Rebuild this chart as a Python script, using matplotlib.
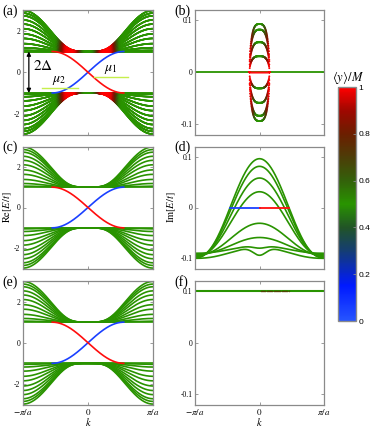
import numpy as np
import matplotlib
matplotlib.use('Agg')
import matplotlib.pyplot as plt
from matplotlib.collections import LineCollection
from matplotlib.colors import LinearSegmentedColormap
from matplotlib.cm import ScalarMappable

plt.rcParams['font.family'] = ['Liberation Serif', 'DejaVu Serif']
plt.rcParams['mathtext.fontset'] = 'stix'
plt.rcParams['axes.unicode_minus'] = False

### Values ###
# bulk band energies at k = +-pi/a (upper set, lower set is mirrored)
band_edge_E = [2.98, 2.85, 2.72, 2.52, 2.32, 2.10, 1.85, 1.63, 1.38, 1.18, 1.05, 1.0]
gap = 1.0                 # Delta
edge_kmax = 0.55          # edge state reaches the bulk at k = +-0.55 pi/a
mu1_E, mu1_k = -0.25, [0.09, 0.62]
mu2_E, mu2_k = -0.75, [-0.71, -0.15]
arrow_k = -0.91

# (b) Im E loops around k = 0
loop_heights_b = [0.093, 0.082, 0.058, 0.031, -0.031, -0.059, -0.084, -0.094]
loop_kmax_b = 0.155

# (d) Im E bells: value at k=0, value at k=+-pi/a, central dip
bell_peaks_d = [0.096, 0.081, 0.058, 0.031, -0.031, -0.059, -0.080, -0.094]
bell_base_d = [-0.099, -0.098, -0.097, -0.096, -0.094, -0.092, -0.090, -0.100]
bell_dips_d = [0, 0, 0, 0, 0, 0, 0.005, 0.016]
edge_kmax_d = 0.46

# (f) flat imaginary part
im_f = 0.1

cbar_ticks = [0, 0.2, 0.4, 0.6, 0.8, 1]

### colormap (blue - green - red) ###
cmap = LinearSegmentedColormap.from_list('ymap', [
    (0.0, (0.15, 0.33, 1.0)), (0.15, (0.0, 0.1, 1.0)), (0.3, (0.08, 0.24, 0.45)),
    (0.4, (0.13, 0.33, 0.15)), (0.5, (0.16, 0.58, 0.0)), (0.6, (0.2, 0.38, 0.04)),
    (0.7, (0.3, 0.24, 0.03)), (0.8, (0.42, 0.12, 0.0)), (0.9, (0.62, 0.03, 0.0)),
    (1.0, (1.0, 0.0, 0.0))])
green = cmap(0.5)
red = (1.0, 0.05, 0.05)
blue = (0.1, 0.25, 1.0)
spine_col = '#8a8a8a'

k = np.linspace(-1, 1, 501)


def band(Epi, kk):
    a = np.sqrt(max(Epi ** 2 - gap ** 2, 0))
    return np.sqrt(gap ** 2 + (a * (1 - np.cos(np.pi * kk)) / 2) ** 2)


def colored_line(ax, x, y, c, lw=1.2):
    pts = np.array([x, y]).T.reshape(-1, 1, 2)
    segs = np.concatenate([pts[:-1], pts[1:]], axis=1)
    lc = LineCollection(segs, colors=cmap(c[:-1]), linewidths=lw, capstyle='round')
    ax.add_collection(lc)


def style(ax, left_col, bottom_row):
    for s in ax.spines.values():
        s.set_color(spine_col)
        s.set_linewidth(0.9)
    ax.tick_params(direction='in', length=2, width=0.6, color=spine_col,
                   top=True, right=True, labelsize=5.5, pad=2)
    ax.set_xlim(-1, 1)
    ax.set_xticks([-1, 0, 1])
    if bottom_row:
        ax.set_xticklabels([r'$-\pi/a$', r'$0$', r'$\pi/a$'], fontsize=6.5)
        ax.set_xlabel(r'$k$', fontsize=7.5, va='center')
        ax.xaxis.set_label_coords(0.5, -0.145)
    else:
        ax.set_xticklabels([])
    if left_col:
        ax.set_ylim(-3, 3)
        ax.set_yticks([-2, 0, 2])
        ax.set_yticklabels(['-2', '0', '2'])
    else:
        ax.set_ylim(-0.12, 0.12)
        ax.set_yticks([-0.1, 0, 0.1])
        ax.set_yticklabels(['-0.1', '0', '0.1'])


fig = plt.figure(figsize=(3.74, 4.29), dpi=100)
W, H = 374, 429
lx, lw_ = 23 / W, 130 / W
rx, rw = 195 / W, 129 / W
rows = [(10, 134.5), (146.5, 268.5), (281, 404.5)]
axes = []
for i, (t, b) in enumerate(rows):
    axL = fig.add_axes([lx, 1 - b / H, lw_, (b - t) / H])
    axR = fig.add_axes([rx, 1 - b / H, rw, (b - t) / H])
    style(axL, True, i == 2)
    style(axR, False, i == 2)
    axes.append((axL, axR))

(ax_a, ax_b), (ax_c, ax_d), (ax_e, ax_f) = axes

# edge state
ke = np.linspace(-edge_kmax, edge_kmax, 200)
E_red = -gap * np.sin(np.pi / 2 * ke / edge_kmax)

### (a) bulk bands coloured by <y>/M ###
bump = np.exp(-((np.abs(k) - 0.28) / 0.16) ** 4)
for Epi in band_edge_E:
    Eb = band(Epi, k)
    ca = 0.5 + 0.5 * bump * np.clip(1 - 0.4 * (Eb - 1.25), 0.55, 1)
    colored_line(ax_a, k, Eb, ca)
    colored_line(ax_a, k, -Eb, ca)
ax_a.plot(ke, -E_red, color=blue, lw=1.2)
ax_a.plot(ke, E_red, color=red, lw=1.2)
ax_a.plot(mu1_k, [mu1_E, mu1_E], color='#c6ef4c', lw=1.0)
ax_a.plot(mu2_k, [mu2_E, mu2_E], color='#c6ef4c', lw=1.0)
ax_a.text(0.35, mu1_E + 0.05, r'$\mu_1$', fontsize=10, ha='center', va='bottom')
ax_a.text(-0.45, mu2_E + 0.05, r'$\mu_2$', fontsize=10, ha='center', va='bottom')
ax_a.annotate('', xy=(arrow_k, -gap), xytext=(arrow_k, gap),
              arrowprops=dict(arrowstyle='<|-|>', color='k', lw=0.9,
                              mutation_scale=6, shrinkA=0, shrinkB=0))
ax_a.text(-0.84, 0.3, r'$2\Delta$', fontsize=11, ha='left', va='center')

### (c), (e) bulk bands all green ###
for ax in (ax_c, ax_e):
    for Epi in band_edge_E:
        Eb = band(Epi, k)
        ax.plot(k, Eb, color=green, lw=1.2)
        ax.plot(k, -Eb, color=green, lw=1.2)
    ax.plot(ke, -E_red, color=blue, lw=1.2)
    ax.plot(ke, E_red, color=red, lw=1.2)
ax_c.set_ylabel(r'$\mathrm{Re}[E/t]$', fontsize=7.5, va='center')
ax_c.yaxis.set_label_coords(-0.115, 0.5)

### (b) loops ###
ax_b.plot(k, np.zeros_like(k), color=green, lw=1.3)
kz = np.linspace(-loop_kmax_b, loop_kmax_b, 40)
ax_b.scatter(kz, np.zeros_like(kz), c=[red], s=1.5, lw=0, zorder=3)
kl = np.linspace(-loop_kmax_b, loop_kmax_b, 90)
for h in loop_heights_b:
    im = h * np.clip(1 - (np.abs(kl) / loop_kmax_b) ** 3, 0, None) ** 0.5
    c = 1 - 0.5 * (im / h) ** 4
    ax_b.scatter(kl, im, c=c, cmap=cmap, vmin=0, vmax=1, s=2.0, lw=0, zorder=3)

### (d) bells ###
bell = np.cos(np.pi * k / 2) ** 2
for p, b0, dp in zip(bell_peaks_d, bell_base_d, bell_dips_d):
    im = b0 + (p + dp - b0) * bell ** 1.2 - dp * bell ** 20
    ax_d.plot(k, im, color=green, lw=1.2)
kb = np.linspace(-edge_kmax_d, 0, 60)
ax_d.plot(kb, np.zeros_like(kb), color=blue, lw=1.3)
ax_d.plot(-kb, np.zeros_like(kb), color=red, lw=1.3)
ax_d.set_ylabel(r'$\mathrm{Im}[E/t]$', fontsize=7.5, va='center')
ax_d.yaxis.set_label_coords(-0.18, 0.5)

### (f) flat ###
ax_f.plot(k, np.full_like(k, im_f), color=green, lw=1.5)
kf = np.linspace(0.02, 0.45, 25)
ax_f.scatter(kf, np.full_like(kf, im_f), c=[cmap(0.75)], s=1.2, lw=0, zorder=3, alpha=0.7)

# panel letters
for ax, lab in zip([ax_a, ax_b, ax_c, ax_d, ax_e, ax_f], 'abcdef'):
    bb = ax.get_position()
    fig.text(bb.x0 - 21 / W, bb.y1 - 1 / H, '(' + lab + ')', fontsize=10,
             ha='left', va='center')

### colorbar ###
cax = fig.add_axes([338 / W, 1 - 321 / H, 18 / W, 234 / H])
cb = fig.colorbar(ScalarMappable(cmap=cmap, norm=plt.Normalize(0, 1)), cax=cax,
                  ticks=cbar_ticks)
cb.outline.set_edgecolor(spine_col)
cb.outline.set_linewidth(1.0)
cax.tick_params(direction='in', length=2, width=0.6, color=spine_col, labelsize=6, pad=2)
cax.set_yticklabels(['0', '0.2', '0.4', '0.6', '0.8', '1'], family='Liberation Sans')
fig.text(348 / W, 1 - 77 / H, r'$\langle y\rangle/M$', fontsize=9, ha='center', va='center')

fig.savefig('out.png', dpi=100)
